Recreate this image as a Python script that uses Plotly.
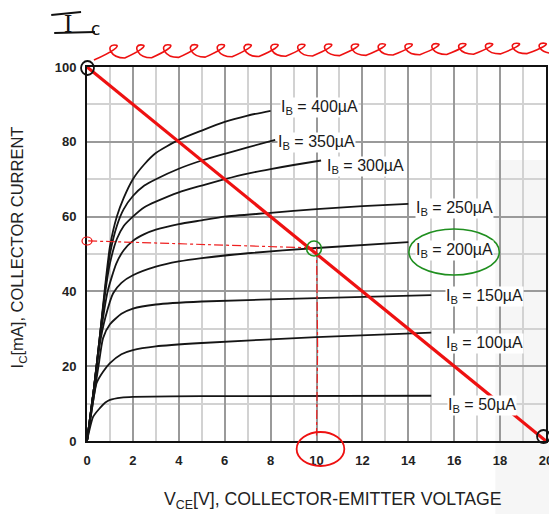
import plotly.graph_objects as go

# ---- data ----
ib_labels = ["400", "350", "300", "250", "200", "150", "100", "50"]

v400 = [0, 0.3, 0.56, 0.8, 1.0, 1.3, 1.6, 2.0, 2.5, 3.0, 4.0, 5.0, 6.0, 7.0, 8.0]
i400 = [0, 14, 28, 42, 52, 60, 65, 70, 74, 77, 80.5, 83, 85.3, 87, 88.3]

v350 = [0, 0.3, 0.56, 0.8, 1.0, 1.3, 1.6, 2.0, 2.5, 3.0, 4.0, 5.0, 6.0, 7.0, 8.2]
i350 = [0, 14, 28, 41, 50, 57.5, 62, 65.5, 68.3, 70, 72.8, 75, 76.8, 78.5, 80.5]

v300 = [0, 0.3, 0.56, 0.8, 1.0, 1.3, 1.6, 2.0, 2.5, 3.0, 4.0, 5.0, 6.0, 7.0, 8.0, 9.0, 10.2]
i300 = [0, 14, 28, 40, 47.5, 54, 57.5, 60, 62.5, 64, 66.5, 68.3, 70, 71.5, 72.7, 73.8, 75]

v250 = [0, 0.3, 0.56, 0.9, 1.28, 1.6, 2.0, 2.5, 3.0, 4.0, 5.0, 6.0, 8.0, 10.0, 12.0, 14.0]
i250 = [0, 14, 27, 40, 47.5, 51, 53.5, 55.3, 56.5, 58, 59, 60, 61, 62, 62.8, 63.4]

v200 = [0, 0.3, 0.56, 0.8, 1.14, 1.5, 2.0, 3.0, 4.0, 5.0, 7.0, 10.0, 14.0]
i200 = [0, 14, 26, 33, 39.5, 42.3, 44.3, 46.6, 48, 48.9, 50.2, 51.6, 53.2]

v150 = [0, 0.3, 0.5, 0.7, 1.0, 1.5, 2.0, 3.0, 5.0, 10.0, 15.0]
i150 = [0, 12, 20, 27.5, 31.2, 34, 35.4, 36.5, 37.3, 38.2, 39]

v100 = [0, 0.2, 0.42, 0.7, 1.0, 1.5, 2.0, 3.0, 5.0, 10.0, 15.0]
i100 = [0, 8, 15.5, 18.5, 20.8, 23.2, 24.3, 25.3, 26.2, 27.8, 29]

v50 = [0, 0.27, 0.56, 0.8, 1.0, 1.5, 2.0, 5.0, 15.0]
i50 = [0, 6.5, 8.8, 10.3, 11, 11.6, 11.8, 12, 12.1]

curves = [(v400, i400), (v350, i350), (v300, i300), (v250, i250),
          (v200, i200), (v150, i150), (v100, i100), (v50, i50)]

# label anchor positions (left edge, centre) in data units
label_x = [8.4, 8.3, 10.4, 14.3, 14.3, 15.6, 15.6, 15.7]
label_y = [89.3, 79.8, 73.3, 62.3, 51.0, 38.6, 26.1, 9.6]

# load line & Q point
load_v = [0, 20]
load_i = [100, 0]
q_v = 10
q_i = 51.6

x_ticks = [0, 2, 4, 6, 8, 10, 12, 14, 16, 18, 20]
y_ticks = [0, 20, 40, 60, 80, 100]

# ---- layout geometry (page pixels; the page has an 8px body margin) ----
W, H = 557, 514
OFF = 8
L, R, T, B = 87, 549, 67, 441   # plot area in page pixels


def px(x):
    return (x - L) / (R - L)


def py(y):
    return (B - y) / (B - T)


FONT = "Liberation Sans, Arial, sans-serif"

fig = go.Figure()

for (v, i) in curves:
    fig.add_trace(go.Scatter(x=v, y=i, mode="lines",
                             line=dict(color="#151515", width=1.8, shape="spline", smoothing=0.6),
                             hoverinfo="skip", showlegend=False))

# red hand-drawn dash-dot guide lines
fig.add_trace(go.Scatter(x=[0.05, 4, q_v], y=[53.5, 52.8, q_i], mode="lines",
                         line=dict(color="#ee2020", width=1.2, dash="dashdot"),
                         showlegend=False, hoverinfo="skip"))
fig.add_trace(go.Scatter(x=[q_v, q_v + 0.05, q_v], y=[q_i, 25, 1.5], mode="lines",
                         line=dict(color="#ee2020", width=1.2, dash="dashdot"),
                         showlegend=False, hoverinfo="skip"))

# load line
fig.add_trace(go.Scatter(x=load_v, y=load_i, mode="lines",
                         line=dict(color="#ee1111", width=3.2),
                         showlegend=False, hoverinfo="skip"))

annotations = []
for lab, lx, ly in zip(ib_labels, label_x, label_y):
    annotations.append(dict(x=lx, y=ly, xref="x", yref="y", xanchor="left", yanchor="middle",
                            text="I<sub>B</sub> = %sµA" % lab, showarrow=False,
                            font=dict(family=FONT, size=16, color="#1a1a1a"),
                            bgcolor="white", borderpad=0))

# axis titles
annotations.append(dict(x=px(335), y=py(500), xref="paper", yref="paper",
                        text="V<sub>CE</sub>[V], COLLECTOR-EMITTER VOLTAGE", showarrow=False,
                        font=dict(family=FONT, size=17.7, color="#222222"),
                        xanchor="center", yanchor="middle"))
annotations.append(dict(x=px(18), y=py(247), xref="paper", yref="paper",
                        text="I<sub>C</sub>[mA], COLLECTOR CURRENT", showarrow=False, textangle=-90,
                        font=dict(family=FONT, size=16.5, color="#222222"),
                        xanchor="center", yanchor="middle"))
# handwritten I_c
annotations.append(dict(x=px(68), y=py(24), xref="paper", yref="paper",
                        text="I", showarrow=False,
                        font=dict(family="Liberation Serif, serif", size=25, color="#111111"),
                        xanchor="center", yanchor="middle"))
annotations.append(dict(x=px(96), y=py(29), xref="paper", yref="paper",
                        text="c", showarrow=False,
                        font=dict(family="DejaVu Sans", size=17, color="#111111"),
                        xanchor="center", yanchor="middle"))

shapes = []
# faint grey band at right (background of the scanned page)
shapes.append(dict(type="rect", xref="paper", yref="paper", layer="below",
                   x0=px(498), x1=px(560), y0=py(520), y1=py(160),
                   fillcolor="#f6f6f6", line=dict(width=0)))

# hand-drawn bars of the "I"
shapes.append(dict(type="line", xref="paper", yref="paper",
                   x0=px(51), y0=py(15), x1=px(81), y1=py(12), line=dict(color="#111", width=2)))
shapes.append(dict(type="line", xref="paper", yref="paper",
                   x0=px(54), y0=py(33), x1=px(95), y1=py(32), line=dict(color="#111", width=2)))

# red squiggle above plot (decoration)
x_start, x_end = 98, 557
nloops = 17
w = (x_end - x_start) / nloops
b0 = 58
path = "M %f,%f " % (px(x_start - 4), py(b0 + 2))
for k in range(nloops):
    a = x_start + k * w
    b = b0 - 5 * (k / nloops)
    h = 13 - 3 * (k / nloops)
    path += "C %f,%f %f,%f %f,%f " % (px(a + 0.45 * w), py(b - 0.4 * h),
                                       px(a + 0.95 * w), py(b - h), px(a + 0.6 * w), py(b - h))
    path += "C %f,%f %f,%f %f,%f " % (px(a + 0.3 * w), py(b - h),
                                       px(a + 0.45 * w), py(b), px(a + w), py(b))
shapes.append(dict(type="path", xref="paper", yref="paper", path=path,
                   line=dict(color="#ee1111", width=1.6)))

# black circles at load line ends
shapes.append(dict(type="circle", xref="paper", yref="paper",
                   x0=px(81), x1=px(94), y0=py(61), y1=py(75), line=dict(color="#111", width=1.8)))
shapes.append(dict(type="circle", xref="paper", yref="paper",
                   x0=px(540), x1=px(553), y0=py(430), y1=py(443), line=dict(color="#111", width=1.8)))
# red circle around 10 tick label
shapes.append(dict(type="circle", xref="paper", yref="paper",
                   x0=px(298), x1=px(346), y0=py(432), y1=py(466), line=dict(color="#ee1111", width=1.8)))
# small red loop at left of horizontal guide
shapes.append(dict(type="circle", xref="paper", yref="paper",
                   x0=px(82), x1=px(92), y0=py(237), y1=py(245), line=dict(color="#ee1111", width=1.2)))
# green circle around Q point
shapes.append(dict(type="circle", xref="paper", yref="paper",
                   x0=px(308), x1=px(323), y0=py(241), y1=py(256), line=dict(color="#1f8f1f", width=1.6)))
# green ellipse around 200uA label
shapes.append(dict(type="circle", xref="paper", yref="paper",
                   x0=px(411), x1=px(502), y0=py(229), y1=py(275), line=dict(color="#1f8f1f", width=1.6)))

tickfont = dict(family=FONT, size=13, color="#222", weight="bold")

fig.update_layout(
    width=W, height=H,
    margin=dict(l=L - OFF, r=W - (R - OFF), t=T - OFF, b=H - (B - OFF)),
    paper_bgcolor="white", plot_bgcolor="rgba(0,0,0,0)",
    showlegend=False,
    annotations=annotations,
    shapes=shapes,
    xaxis=dict(range=[0, 20], tickvals=x_ticks, ticktext=[str(t) for t in x_ticks],
               showgrid=True, gridcolor="#9a9a9a", gridwidth=1.5,
               minor=dict(dtick=1, showgrid=True, gridcolor="#d2d2d2", gridwidth=1.5),
               showline=True, linecolor="#111", linewidth=2, mirror=True,
               zeroline=False, ticks="", ticklabelstandoff=6,
               tickfont=tickfont, fixedrange=True),
    yaxis=dict(range=[0, 100], tickvals=y_ticks, ticktext=[str(t) for t in y_ticks],
               showgrid=True, gridcolor="#9a9a9a", gridwidth=1.5,
               minor=dict(dtick=10, showgrid=True, gridcolor="#d2d2d2", gridwidth=1.5),
               showline=True, linecolor="#111", linewidth=2, mirror=True,
               zeroline=False, ticks="", ticklabelstandoff=6,
               tickfont=tickfont, fixedrange=True),
)

fig.write_html("out.html")
